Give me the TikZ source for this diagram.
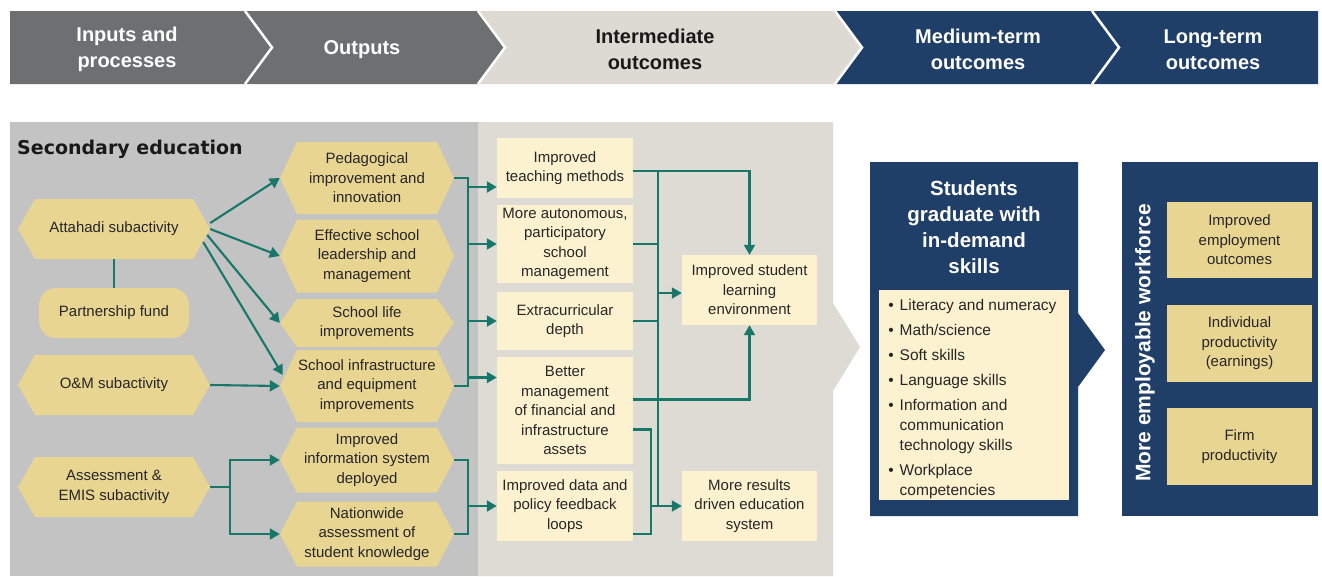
\documentclass[tikz,border=0pt]{standalone}
\usepackage{fontspec}
\setmainfont{Liberation Sans}
\newfontfamily\secfont{DejaVu Sans}
\usetikzlibrary{arrows.meta}
\definecolor{hdark}{HTML}{6D6F71}
\definecolor{hlight}{HTML}{DDDAD3}
\definecolor{navy}{HTML}{1F3F68}
\definecolor{panelgray}{HTML}{C3C3C3}
\definecolor{panelbeige}{HTML}{DEDBD5}
\definecolor{hexfill}{HTML}{E9D592}
\definecolor{cream}{HTML}{FDF2D0}
\definecolor{linkteal}{HTML}{17786A}
\tikzset{
  txt/.style={font=\fontsize{15}{19.5}\selectfont, text=black!85},
  htxt/.style={font=\fontsize{20}{26}\selectfont\bfseries, text=white, align=center},
  hexa/.style={txt, inner sep=0pt, align=center,
    path picture={\fill[hexfill] (path picture bounding box.west)
      -- ([xshift=17pt]path picture bounding box.north west)
      -- ([xshift=-17pt]path picture bounding box.north east)
      -- (path picture bounding box.east)
      -- ([xshift=-17pt]path picture bounding box.south east)
      -- ([xshift=17pt]path picture bounding box.south west) -- cycle;}},
  fund/.style={txt, fill=hexfill, rounded corners=17pt, minimum width=150pt, minimum height=50pt},
  outc/.style={txt, fill=cream, inner sep=0pt, align=center},
  ltbox/.style={txt, fill=hexfill, inner sep=0pt, align=center, minimum width=145pt},
  link/.style={draw=linkteal, line width=2.1pt},
  flow/.style={link, -{Triangle[length=10pt,width=11pt]}}
}

\begin{document}
\begin{tikzpicture}[x=1pt,y=-1pt]
\useasboundingbox (0,0) rectangle (1322,576);
\fill[hdark] (10,11) -- (245,11) -- (272,47.5) -- (245,84) -- (10,84) -- cycle;
\fill[hdark] (245,11) -- (478,11) -- (505,47.5) -- (478,84) -- (245,84) -- (272,47.5) -- cycle;
\fill[hlight] (478,11) -- (835,11) -- (862,47.5) -- (835,84) -- (478,84) -- (505,47.5) -- cycle;
\fill[navy] (835,11) -- (1092,11) -- (1120,47.5) -- (1092,84) -- (835,84) -- (862,47.5) -- cycle;
\fill[navy] (1092,11) -- (1318,11) -- (1318,84) -- (1092,84) -- (1120,47.5) -- cycle;
\foreach \x in {245,478,835,1092}
  \draw[white, line width=2.5pt] (\x,11) -- (\x+27,47.5) -- (\x,84);
\node[htxt] (hin) at (127,49.5) {Inputs and\\processes};
\node[htxt] (hout) at (362,49.5) {Outputs};
\node[htxt, text=black!90] (hint) at (655,49.5) {Intermediate\\outcomes};
\node[htxt] (hmed) at (978,49.5) {Medium-term\\outcomes};
\node[htxt] (hlong) at (1213,49.5) {Long-term\\outcomes};

\fill[panelgray] (10,122) rectangle (478,576);
\fill[panelbeige] (478,122) -- (833,122) -- (833,303) -- (860,347) -- (833,391) -- (833,576) -- (478,576) -- cycle;
\node[anchor=base west, inner sep=0pt, font=\secfont\bfseries\fontsize{19}{23}\selectfont, text=black!90] (sec) at (17,154) {Secondary education};

\node[hexa, minimum width=192pt, minimum height=60pt] (att) at (114,229) {Attahadi subactivity};
\node[fund] (pf) at (114,313) {Partnership fund};
\node[hexa, minimum width=192pt, minimum height=60pt] (om) at (114,385) {O\&M subactivity};
\node[hexa, minimum width=192pt, minimum height=60pt] (aem) at (114,487) {Assessment \&\\EMIS subactivity};

\node[hexa, minimum width=174pt, minimum height=72pt] (ped) at (367,178) {Pedagogical\\improvement and\\innovation};
\node[hexa, minimum width=174pt, minimum height=73pt] (esl) at (367,256) {Effective school\\leadership and\\management};
\node[hexa, minimum width=174pt, minimum height=48pt] (slf) at (367,323) {School life\\improvements};
\node[hexa, minimum width=174pt, minimum height=72pt] (sie) at (367,386) {School infrastructure\\and equipment\\improvements};
\node[hexa, minimum width=174pt, minimum height=65pt] (iis) at (367,460) {Improved\\information system\\deployed};
\node[hexa, minimum width=174pt, minimum height=65pt] (nas) at (367,534) {Nationwide\\assessment of\\student knowledge};

\node[outc, minimum width=136pt, minimum height=60pt] (itm) at (565,168) {Improved\\teaching methods};
\node[outc, minimum width=136pt, minimum height=78pt] (aut) at (565,244) {More autonomous,\\participatory\\school\\management};
\node[outc, minimum width=136pt, minimum height=58pt] (ecd) at (565,321) {Extracurricular\\depth};
\node[outc, minimum width=136pt, minimum height=107pt] (bmf) at (565,410.5) {Better\\management\\of financial and\\infrastructure\\assets};
\node[outc, minimum width=136pt, minimum height=70pt] (idp) at (565,506) {Improved data and\\policy feedback\\loops};
\node[outc, minimum width=135pt, minimum height=70pt] (isl) at (749.5,290) {Improved student\\learning\\environment};
\node[outc, minimum width=135pt, minimum height=70pt] (mrd) at (749.5,506) {More results\\driven education\\system};

\draw[flow] ([yshift=6pt]att.east) -- (ped.west);
\draw[flow] (att.east) -- (esl.west);
\draw[flow] ([xshift=-3pt,yshift=-6pt]att.east) -- (slf.west);
\draw[flow] ([xshift=-7pt,yshift=-13pt]att.east) -- ([xshift=3pt,yshift=11pt]sie.west);
\draw[link] (att.south) -- (pf.north);
\draw[flow] (om.east) -- (sie.west);
\draw[link] (aem.east) -- ++(20,0) coordinate (aemj);
\draw[flow] (aemj) |- (iis.west);
\draw[flow] (aemj) |- (nas.west);

\coordinate (obus) at (468,0);
\draw[link] (ped.east) -- (ped.east -| obus) -- (sie.east -| obus) -- (sie.east);
\foreach \n/\s in {itm/-19,aut/0,ecd/0,bmf/33}
  \draw[flow] ([yshift=\s pt]\n.west -| obus) -- ([yshift=\s pt]\n.west);
\draw[link] (iis.east) -- (iis.east -| obus) -- (nas.east -| obus) -- (nas.east);
\draw[flow] (idp.west -| obus) -- (idp.west);

\coordinate (ibus) at (658,0);
\coordinate (rbus) at (651,0);
\draw[flow] ([yshift=-3pt]itm.east) -| (isl.north);
\draw[link] ([yshift=-3pt]itm.east -| ibus) -- (mrd.west -| ibus);
\draw[link] (aut.east) -- (aut.east -| ibus);
\draw[link] (ecd.east) -- (ecd.east -| ibus);
\draw[flow] ([yshift=-3pt]isl.west -| ibus) -- ([yshift=-3pt]isl.west);
\draw[flow] ([yshift=11pt]bmf.east) -| (isl.south);
\draw[link] ([yshift=-19pt]bmf.east) -- ([yshift=-19pt]bmf.east -| rbus) -- ([yshift=-28pt]idp.east -| rbus) -- ([yshift=-28pt]idp.east);
\draw[flow] (mrd.west -| rbus) -- (mrd.west);

\fill[navy] (870,162) -- (1078,162) -- (1078,313) -- (1105,350) -- (1078,387) -- (1078,516) -- (870,516) -- cycle;
\node[htxt, font=\fontsize{20.5}{26}\selectfont\bfseries] (mtitle) at (974,227) {Students\\graduate with\\in-demand\\skills};
\node[fill=cream, minimum width=190pt, minimum height=210pt, inner sep=0pt] (skills) at (974,395) {};
\node[inner sep=0pt, font=\fontsize{15.5}{20}\selectfont, text=black!85] (skilllist) at (974,399) {%
  \begin{tabular}{@{}l@{\hspace{6pt}}p{160pt}@{}}
  \textbullet & Literacy and numeracy\\[5pt]
  \textbullet & Math/science\\[5pt]
  \textbullet & Soft skills\\[5pt]
  \textbullet & Language skills\\[5pt]
  \textbullet & Information and\newline communication\newline technology skills\\[5pt]
  \textbullet & Workplace\newline competencies
  \end{tabular}};

\fill[navy] (1122,162) rectangle (1318,516);
\node[htxt, font=\fontsize{21}{26}\selectfont\bfseries, rotate=90] (mew) at (1145,343) {More employable workforce};
\node[ltbox, minimum height=76pt] (elt1) at (1239.5,240) {Improved\\employment\\outcomes};
\node[ltbox, minimum height=77pt] (elt2) at (1239.5,343.5) {Individual\\productivity\\(earnings)};
\node[ltbox, minimum height=77pt] (elt3) at (1239.5,446.5) {Firm\\productivity};
\end{tikzpicture}
\end{document}
